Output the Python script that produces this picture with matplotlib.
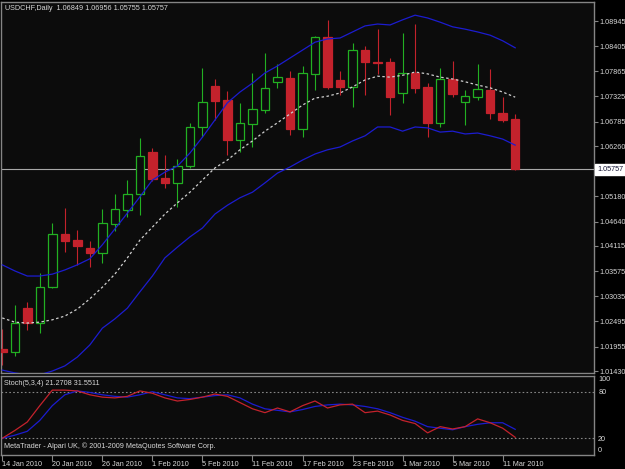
import matplotlib
matplotlib.use('Agg')
import matplotlib.pyplot as plt
import numpy as np
import pandas as pd

plt.rcParams['font.family'] = ['Liberation Sans', 'DejaVu Sans']

# ── data (USDCHF daily, 14 Jan – 12 Mar 2010) ─────────────────────────────
bar_dates = pd.bdate_range('2010-01-14', '2010-03-12')

opens = [1.01903, 1.01839, 1.02783, 1.02461, 1.03234, 1.04372, 1.04243, 1.04071,
         1.03964, 1.04587, 1.04887, 1.05231, 1.06132, 1.05574, 1.05467, 1.05832,
         1.06669, 1.07549, 1.07249, 1.06390, 1.06734, 1.07034, 1.07635, 1.07721,
         1.06626, 1.07807, 1.08601, 1.07678, 1.07528, 1.08322, 1.08075, 1.08065,
         1.07399, 1.07829, 1.07528, 1.06755, 1.07700, 1.07206, 1.07313, 1.07464,
         1.06970, 1.06849]
highs = [1.02332, 1.02847, 1.02912, 1.03535, 1.04608, 1.04930, 1.04458, 1.04222,
         1.04909, 1.05231, 1.05531, 1.06433, 1.06218, 1.06068, 1.05982, 1.06755,
         1.07936, 1.07700, 1.07442, 1.07185, 1.07829, 1.08258, 1.08022, 1.07872,
         1.07979, 1.08623, 1.08966, 1.07872, 1.08473, 1.08408, 1.08773, 1.08151,
         1.08687, 1.08881, 1.07614, 1.07936, 1.08086, 1.07464, 1.08022, 1.07914,
         1.07313, 1.06956]
lows = [1.01560, 1.01753, 1.02311, 1.02246, 1.03212, 1.03985, 1.03706, 1.03663,
        1.03749, 1.04437, 1.04737, 1.04780, 1.05510, 1.05360, 1.04952, 1.05789,
        1.06455, 1.06819, 1.06068, 1.06132, 1.06240, 1.06970, 1.07507, 1.06497,
        1.06455, 1.07464, 1.07485, 1.07356, 1.07099, 1.07356, 1.07807, 1.06927,
        1.07185, 1.07399, 1.06455, 1.06669, 1.07313, 1.06712, 1.07249, 1.06841,
        1.06776, 1.05755]
closes = [1.01839, 1.02461, 1.02461, 1.03234, 1.04372, 1.04222, 1.04114, 1.03964,
          1.04608, 1.04909, 1.05231, 1.06046, 1.05553, 1.05467, 1.05832, 1.06669,
          1.07206, 1.07227, 1.06390, 1.06755, 1.07056, 1.07507, 1.07743, 1.06626,
          1.07829, 1.08601, 1.07528, 1.07528, 1.08322, 1.08065, 1.08043, 1.07313,
          1.07829, 1.07507, 1.06755, 1.07700, 1.07378, 1.07335, 1.07485, 1.06970,
          1.06819, 1.05757]

bb_upper = [1.0371, 1.0358, 1.0347, 1.0347, 1.0351, 1.0360, 1.0371, 1.0384,
            1.0414, 1.0448, 1.0482, 1.0517, 1.0553, 1.0570, 1.0583, 1.0611,
            1.0645, 1.0682, 1.0719, 1.0742, 1.0761, 1.0783, 1.0798, 1.0815,
            1.0832, 1.0849, 1.0856, 1.0858, 1.0871, 1.0884, 1.0888, 1.0886,
            1.0897, 1.0907, 1.0901, 1.0892, 1.0882, 1.0877, 1.0871, 1.0864,
            1.0852, 1.0837]
bb_lower = [1.0145, 1.0139, 1.0135, 1.0135, 1.0143, 1.0154, 1.0173, 1.0199,
            1.0235, 1.0255, 1.0278, 1.0313, 1.0347, 1.0386, 1.0409, 1.0431,
            1.0450, 1.0480, 1.0499, 1.0515, 1.0527, 1.0547, 1.0568, 1.0581,
            1.0596, 1.0609, 1.0618, 1.0624, 1.0637, 1.0648, 1.0667, 1.0667,
            1.0658, 1.0667, 1.0665, 1.0656, 1.0658, 1.0652, 1.0654, 1.0648,
            1.0641, 1.0628]
bb_mid = [1.0257, 1.0248, 1.0246, 1.0248, 1.0253, 1.0261, 1.0276, 1.0298,
          1.0323, 1.0351, 1.0386, 1.0424, 1.0452, 1.0480, 1.0504, 1.0527,
          1.0553, 1.0579, 1.0596, 1.0618, 1.0637, 1.0658, 1.0676, 1.0695,
          1.0714, 1.0729, 1.0733, 1.0740, 1.0753, 1.0768, 1.0776, 1.0774,
          1.0778, 1.0785, 1.0781, 1.0774, 1.0770, 1.0764, 1.0757, 1.0751,
          1.0742, 1.0731]

stoch_k = [20, 30, 41, 62, 82, 82, 81, 76, 73, 72, 74, 81, 78, 72, 68, 70,
           73, 77, 74, 66, 58, 53, 59, 54, 62, 68, 59, 63, 64, 53, 55, 50,
           43, 39, 27, 35, 32, 35, 45, 40, 33, 21.2708]
stoch_d = [20, 24, 29, 43, 62, 76, 81, 79, 76, 74, 73, 76, 80, 76, 72, 71,
           73, 75, 76, 72, 64, 58, 56, 54, 57, 61, 63, 64, 63, 61, 58, 53,
           47, 42, 35, 33, 31, 35, 38, 40, 40, 31.5511]

price_ticks = [1.08945, 1.08405, 1.07865, 1.07325, 1.06785, 1.06260, 1.05180,
               1.04640, 1.04115, 1.03575, 1.03035, 1.02495, 1.01955, 1.01430]
stoch_ticks = [100, 80, 20, 0]
stoch_levels = [80, 20]

# ── style ────────────────────────────────────────────────────────────────
BG = '#0c0c0c'
GRID = '#858585'
TXT = '#d8d8d8'
BULL = '#22b022'
BEAR = '#c4222c'
BAND = '#1c1cd0'
FS = 5.2

fig = plt.figure(figsize=(6.25, 4.69), dpi=100, facecolor='black')
ax = fig.add_axes([1/625, 1 - 373/469, 593/625, 371/469], facecolor=BG)
ax2 = fig.add_axes([1/625, 1 - 455/469, 593/625, 79/469], facecolor=BG)

x = np.arange(len(closes))
o = np.array(opens); h = np.array(highs); l = np.array(lows); c = np.array(closes)
up = c >= o
cols = np.where(up, BULL, BEAR)
XLIM = (-0.1, 47.3)

# ── main panel: candles + bands ──────────────────────────────────────────
ax.vlines(x, l, h, colors=cols, linewidth=0.8, zorder=2)
body_lo = np.minimum(o, c)
body_h = np.maximum(np.abs(c - o), 0.00004)
ax.bar(x, body_h, bottom=body_lo, width=0.68,
       color=np.where(up, BG, BEAR), edgecolor=cols, linewidth=0.9, zorder=3)

ax.plot(x, bb_upper, color=BAND, linewidth=0.9, zorder=4)
ax.plot(x, bb_lower, color=BAND, linewidth=0.9, zorder=4)
ax.plot(x, bb_mid, color='#d0d0d0', linewidth=0.9, linestyle=(0, (2, 2)), zorder=4)
ax.axhline(closes[-1], color='#a8a8a8', linewidth=0.8, zorder=1)

ax.set_xlim(*XLIM)
ax.set_ylim(1.01388, 1.09353)
ax.set_xticks([])
ax.yaxis.tick_right()
ax.set_yticks(price_ticks)
ax.set_yticklabels([f'{p:.5f}' for p in price_ticks])
ax.tick_params(axis='y', length=3, width=0.8, color=GRID, labelcolor=TXT,
               labelsize=FS, pad=1)

ax.text(0.007, 0.992,
        f'USDCHF,Daily  {opens[-1]:.5f} {highs[-1]:.5f} {lows[-1]:.5f} {closes[-1]:.5f}',
        transform=ax.transAxes, color=TXT, fontsize=FS, va='top', ha='left')
ax.annotate(f'{closes[-1]:.5f}', xy=(1.0, closes[-1]), xycoords=('axes fraction', 'data'),
            xytext=(2.4, 0), textcoords='offset points', va='center', ha='left',
            fontsize=FS, color='#101030', annotation_clip=False,
            bbox=dict(boxstyle='square,pad=0.3', facecolor='white', edgecolor='white'))

# ── stochastic panel ─────────────────────────────────────────────────────
for lv in stoch_levels:
    ax2.axhline(lv, color=GRID, linewidth=0.8, linestyle=(0, (1.5, 2)))
ax2.plot(x, stoch_d, color=BAND, linewidth=0.9)
ax2.plot(x, stoch_k, color=BEAR, linewidth=0.9)
ax2.set_xlim(*XLIM)
ax2.set_ylim(-1.5, 100.2)

ax2.yaxis.tick_right()
ax2.set_yticks(stoch_ticks)
ax2.set_yticklabels([str(t) for t in stoch_ticks])
ax2.tick_params(axis='y', length=0, labelcolor=TXT, labelsize=FS, pad=3)
for lab, t in zip(ax2.get_yticklabels(), stoch_ticks):
    if t == 100:
        lab.set_va('top')
    elif t == 0:
        lab.set_va('bottom')

tick_idx = x[::4]
ax2.set_xticks(tick_idx)
ax2.set_xticklabels([f'{bar_dates[i].day} {bar_dates[i]:%b %Y}' for i in tick_idx])
ax2.tick_params(axis='x', length=4, width=0.8, color=GRID, labelcolor=TXT,
                labelsize=FS, pad=0.5)
for lab in ax2.get_xticklabels():
    lab.set_ha('left')

ax2.text(0.005, 0.9, f'Stoch(5,3,4) {stoch_k[-1]:.4f} {stoch_d[-1]:.4f}',
         transform=ax2.transAxes, color=TXT, fontsize=FS, va='center', ha='left')
ax2.text(0.005, 0.06, 'MetaTrader - Alpari UK, \u00a9 2001-2009 MetaQuotes Software Corp.',
         transform=ax2.transAxes, color=TXT, fontsize=FS, va='bottom', ha='left')

for a in (ax, ax2):
    for s in a.spines.values():
        s.set_color(GRID)
        s.set_linewidth(1.0)

fig.savefig('out.png', dpi=100, facecolor='black')
